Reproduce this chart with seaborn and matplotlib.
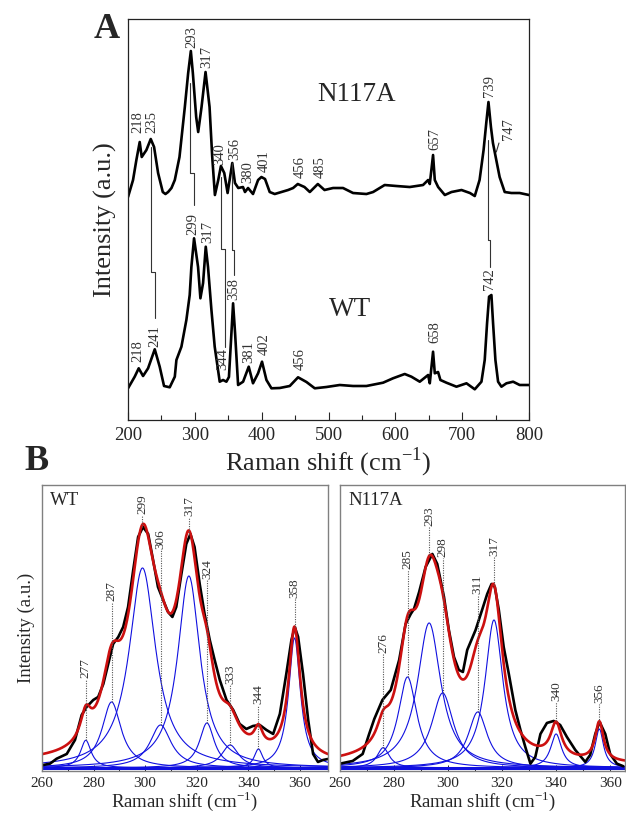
import numpy as np
import pandas as pd
import seaborn as sns
import matplotlib.pyplot as plt

# ---- panel A : full spectra (x in cm-1, y in a.u.) ----
n117a_x = [200, 207.5, 212.5, 217.5, 220.5, 227.5, 234, 239, 245, 252, 256, 260, 265, 270, 277, 285, 290, 294,
           297, 302, 305, 310, 316, 322, 326, 330, 335, 339, 344, 349, 356, 360, 365, 372, 375, 379.6, 387,
           394.6, 399.6, 405, 412, 419.5, 429.5, 439.5, 447, 454, 464, 472, 484, 494, 506.8, 521.7, 536.7,
           556.7, 566.7, 584, 601.6, 621.5, 641.4, 649, 651.5, 656.4, 659, 664, 674, 684, 699, 711.6, 718.8,
           726, 732, 736, 739.3, 743, 746, 751, 756, 763.6, 773.6, 786, 800]
n117a_y = [223, 240, 260, 278, 263, 270, 281, 273, 247, 228, 226, 228, 232, 240, 263, 313, 347, 369,
           347, 303, 288, 313, 348, 313, 263, 225, 240, 254, 247, 227, 257, 237, 232, 233, 228, 232, 226,
           240, 243, 241, 228, 226, 228, 230, 232, 236, 233, 228, 236, 230, 232, 232, 227,
           226, 228, 235, 234, 233, 235, 240, 236, 265, 240, 233, 225, 228, 230, 227, 224,
           240, 270, 297, 318, 293, 277, 260, 243, 228, 227, 227, 225]

wt_x = [200, 210, 216, 222.5, 230, 240, 247.4, 253.9, 262.4, 270, 272.4, 279.9, 287.3, 292.3, 294.8, 298.8,
        304.8, 308.3, 312.3, 316.3, 319.7, 324.8, 329.7, 337.2, 342.2, 347.2, 351, 354.7, 357.2, 360.2, 364.7,
        372.2, 380.6, 387, 394.6, 400.5, 407.1, 414.6, 427, 442, 454.4, 467, 479.4, 496.9, 516.8, 536.7,
        556.7, 581.6, 596.5, 614, 624, 636.5, 649, 651.5, 656.4, 659, 663.9, 667.4, 676.4, 691.4, 706.4,
        718.8, 728.8, 733.7, 737.2, 740.2, 743.7, 746.2, 749.7, 753.7, 758.7, 766.2, 776.2, 786, 800]
wt_y = [31.7, 43.3, 51.7, 44, 51.7, 70.7, 53.3, 34, 32.7, 43.3, 60, 73.3, 100, 125, 153, 181.7,
        153, 121.7, 137, 173.3, 153, 110, 73.3, 38.3, 40, 38.3, 43, 86.7, 116.7, 86.7, 35,
        38.3, 53.3, 36.7, 46.7, 58.3, 40, 31.7, 32, 34, 42.7, 38, 31.7, 33, 35, 34,
        34, 37.3, 41.7, 46, 43.3, 38.3, 45, 36.7, 68.3, 46.7, 48, 40, 37.3, 33.3, 36.7,
        30.7, 38.3, 60, 96.7, 123.3, 125, 96.7, 60, 38.3, 33.3, 36.7, 38.3, 35, 35]

# peak labels of panel A: text, x, y (bottom of text)
a_top_labels = ['218', '235', '293', '317', '340', '356', '380', '401', '456', '485', '657', '739', '747']
a_top_x = [215.3, 235, 294.8, 317.3, 337.2, 359.7, 379.6, 403.5, 457, 486.9, 658.9, 741.2, 768.6]
a_top_y = [286.7, 286.7, 371.7, 351.7, 255, 260, 236.7, 248.3, 241.7, 241.7, 270, 323.3, 280]
a_bot_labels = ['218', '241', '299', '317', '344', '358', '381', '402', '456', '658', '742']
a_bot_x = [215, 240, 297.3, 319.7, 342.2, 358.2, 381, 403.5, 457, 658.9, 741.2]
a_bot_y = [58.3, 73.3, 185, 176.7, 50, 120, 56.7, 65, 50, 76.7, 130]

# correlation lines N117A peak -> WT peak (x top, x bottom, y start, y step, y end)
link_top = [234, 292.5, 339.7, 356.2, 739]
link_bot = [240, 298.5, 344.7, 358.2, 742]
link_y0 = [273, 337, 243, 257, 280]
link_y1 = [148, 247, 171, 170, 180]
link_y2 = [102, 215, 73, 145, 153]

# ---- panel B : measured spectra and Lorentzian components ----
wtB_x = [260, 263.1, 265.7, 269.6, 272.8, 275.4, 277.3, 279.9, 281.8, 283.8, 285.7, 287.6, 289.6, 291.5, 293.4,
         295.4, 297.3, 299.2, 301.2, 303.1, 305, 307, 308.9, 310.6, 312.1, 314.1, 316, 317.6, 319.2, 321.2,
         323.1, 325.1, 327, 329, 331.6, 334.2, 336.7, 339.3, 341.9, 344.5, 347.1, 349.7, 352.3, 354.8, 356.8,
         358.1, 359.4, 361.3, 363.3, 365.2, 367.1, 369.1, 371]
wtB_y = [2.7, 4.3, 9.3, 14, 28, 53, 61, 68, 71, 84, 104, 124, 131, 141, 161,
         198, 231, 241, 234, 208, 181, 168, 156, 151, 161, 194, 224, 234, 221, 184,
         154, 128, 108, 88, 68, 58, 44, 39, 42, 43, 38, 34, 54, 94, 128,
         141, 131, 94, 48, 14, 6, 8, 9]
nB_x = [260, 264.7, 268.4, 270.8, 272.7, 275.7, 278.8, 281.9, 284.3, 286.2, 287.4, 289.3, 291.7, 294.2, 296,
        298.5, 300.3, 302.2, 304, 305.5, 307.1, 310.2, 312.6, 314.5, 316.1, 317.3, 318.8, 320.6, 322.5, 324.9,
        326.8, 328.6, 330.5, 332.3, 334.2, 336.6, 339.1, 341.5, 344, 347.1, 350.8, 352.6, 354.5, 356.1, 358.2,
        360, 362.5, 364.9]
nB_y = [4.3, 7, 14, 34, 49, 68, 78, 108, 144, 154, 159, 176, 201, 214, 204,
        171, 138, 111, 98, 96, 118, 138, 158, 174, 184, 181, 158, 121, 94, 58,
        38, 21, 4.3, 11, 34, 45, 47, 43, 31, 18, 6, 13, 34, 46, 34,
        14, 4.3, 1.7]

wt_pos = [277, 287, 299, 306, 317, 324, 333, 344, 358]
wt_amp = [27.7, 66, 200, 43, 192, 45, 23, 19, 130]
wt_fwhm = [5, 9, 12.5, 10, 10.5, 7, 8, 4, 5.5]
wt_base = 4
wt_lab_y = [89, 166, 253, 218, 251, 188, 83, 63, 169]
wt_stem = [28, 66, 241, 43, 234, 45, 23, 19, 141]

n_pos = [276, 285, 293, 298, 311, 317, 340, 356]
n_amp = [20.3, 91, 145, 75, 56, 148, 34, 39]
n_fwhm = [5.5, 8.4, 10.5, 9.8, 8.6, 8, 4.9, 3.7]
n_base = 3
n_lab_y = [114, 198, 241, 210, 173, 211, 66, 64]
n_stem = [20, 91, 213, 75, 56, 183, 47, 46]

sns.set_theme(style='white')
plt.rcParams['font.family'] = ['Liberation Serif', 'DejaVu Serif']
plt.rcParams['mathtext.fontset'] = 'custom'
plt.rcParams['mathtext.rm'] = 'Liberation Serif'
plt.rcParams['xtick.direction'] = 'in'
plt.rcParams['ytick.direction'] = 'in'

fig = plt.figure(figsize=(6.26, 8.13), dpi=100)
axA = fig.add_axes([0.2045, 0.4834, 0.6406, 0.4932])
axL = fig.add_axes([0.0671, 0.0517, 0.4569, 0.3518])
axR = fig.add_axes([0.5431, 0.0517, 0.4553, 0.3518])

lab_col = '#333333'

#PANEL A
sns.lineplot(x=n117a_x, y=n117a_y, ax=axA, color='black', lw=1.9, sort=False, estimator=None)
sns.lineplot(x=wt_x, y=wt_y, ax=axA, color='black', lw=1.9, sort=False, estimator=None)
for xt, xb, y0, y1, y2 in zip(link_top, link_bot, link_y0, link_y1, link_y2):
    axA.plot([xt, xt, xb, xb], [y0, y1, y1, y2], color=lab_col, lw=0.8)
axA.plot([751, 755], [268, 277], color=lab_col, lw=0.8)
for t, x, y in zip(a_top_labels, a_top_x, a_top_y):
    axA.text(x, y, t, rotation=90, ha='center', va='bottom', fontsize=10.5, color=lab_col)
for t, x, y in zip(a_bot_labels, a_bot_x, a_bot_y):
    axA.text(x, y, t, rotation=90, ha='center', va='bottom', fontsize=10.5, color=lab_col)
axA.text(542, 326, 'N117A', ha='center', va='center', fontsize=19.5)
axA.text(533, 111, 'WT', ha='center', va='center', fontsize=19.5)
axA.set_xlim(200, 800)
axA.set_ylim(0, 401)
axA.set_xticks(range(200, 801, 100))
axA.set_xticks(range(250, 800, 100), minor=True)
axA.set_yticks([])
axA.tick_params(axis='x', which='major', length=6, width=0.8, labelsize=13.5, pad=5, bottom=True)
axA.tick_params(axis='x', which='minor', length=3.5, width=0.8, bottom=True)
axA.set_xlabel(r'Raman shift (cm$^{\mathregular{-1}}$)', fontsize=19, labelpad=1)
axA.set_ylabel('Intensity (a.u.)', fontsize=19, labelpad=8)
for s in axA.spines.values():
    s.set_color('#222222')
    s.set_linewidth(0.9)

#PANEL B
def lorentz(x, x0, a, w):
    return a / (1 + ((x - x0) / (w / 2)) ** 2)

panels = [
    (axL, 'WT', wtB_x, wtB_y, wt_pos, wt_amp, wt_fwhm, wt_base, wt_lab_y, wt_stem, 371),
    (axR, 'N117A', nB_x, nB_y, n_pos, n_amp, n_fwhm, n_base, n_lab_y, n_stem, 365.5),
]
for ax, name, bx, by, pos, amp, fw, base, laby, stem, xmax in panels:
    xs = np.linspace(260, xmax, 600)
    total = np.full_like(xs, base, dtype=float)
    ax.axhline(0, color='#1010e0', lw=2.2)
    for p, a, w in zip(pos, amp, fw):
        comp = lorentz(xs, p, a, w)
        total += comp
        sns.lineplot(x=xs, y=comp, ax=ax, color='#1010e0', lw=0.8, estimator=None)
    sns.lineplot(x=bx, y=by, ax=ax, color='black', lw=1.9, sort=False, estimator=None)
    sns.lineplot(x=xs, y=total, ax=ax, color='#cc1010', lw=1.9, estimator=None)
    for p, ly, st in zip(pos, laby, stem):
        ax.plot([p, p], [st, ly], color='#555555', lw=0.8, ls=(0, (1, 1.2)))
        ax.text(p, ly + 1, str(p), rotation=90, ha='center', va='bottom', fontsize=9.5, color=lab_col)
    ax.text(0.028, 0.975, name, transform=ax.transAxes, ha='left', va='top', fontsize=13.5)
    ax.set_xlim(260, xmax)
    ax.set_ylim(-3, 283)
    ax.set_xticks(range(260, 361, 20))
    ax.set_xticks(range(270, 366, 20), minor=True)
    ax.set_yticks([])
    ax.tick_params(axis='x', which='major', length=4, width=0.7, labelsize=11, pad=4, bottom=True)
    ax.tick_params(axis='x', which='minor', length=2.5, width=0.7, bottom=True)
    ax.set_xlabel(r'Raman shift (cm$^{\mathregular{-1}}$)', fontsize=13.5, labelpad=0)
    for s in ax.spines.values():
        s.set_color('#808080')
        s.set_linewidth(1.0)
axL.set_ylabel('Intensity (a.u.)', fontsize=13.5, labelpad=5)

fig.text(0.171, 0.964, 'A', fontsize=26, fontweight='bold', ha='center', va='center')
fig.text(0.058, 0.432, 'B', fontsize=26, fontweight='bold', ha='center', va='center')

fig.savefig('out.png', dpi=100)
